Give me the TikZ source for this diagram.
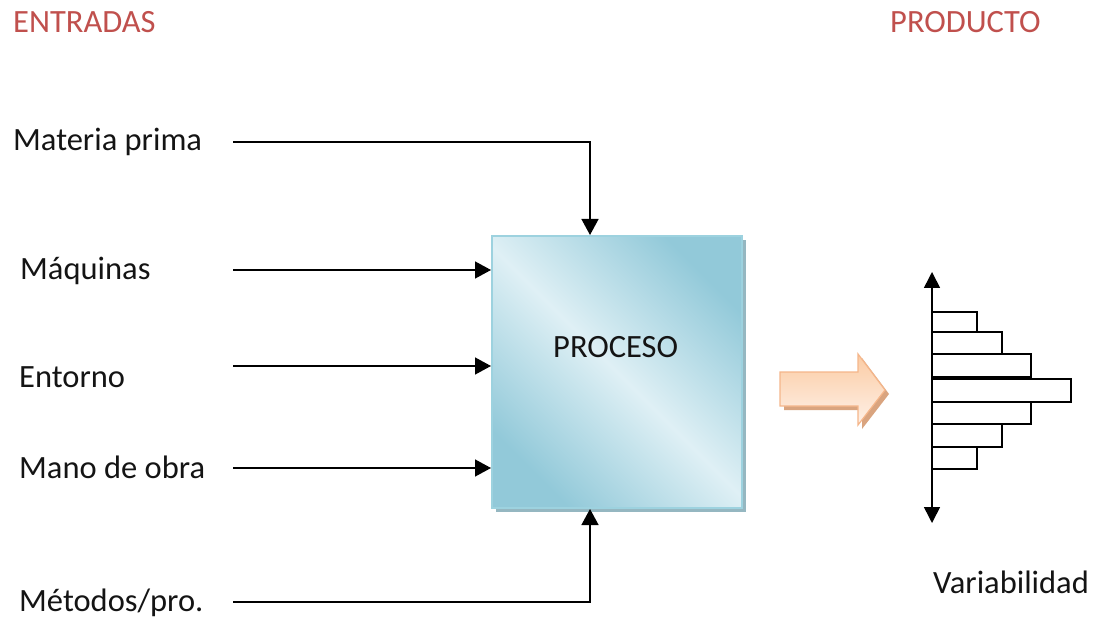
\documentclass[tikz,border=0pt]{standalone}
\usepackage{fontspec}
\setmainfont{Carlito}
\usetikzlibrary{arrows.meta,shadows,calc}
\definecolor{headred}{HTML}{C0504D}
\definecolor{boxdark}{HTML}{92C9D9}
\definecolor{boxlight}{HTML}{DFF0F5}
\definecolor{boxline}{HTML}{9DD2DF}
\definecolor{boxshadow}{HTML}{8AAFBA}
\definecolor{arrtop}{HTML}{FBCBA3}
\definecolor{arrbot}{HTML}{FEF1E8}
\definecolor{arrline}{HTML}{F5B68A}
\definecolor{arrshadow}{HTML}{D9A47F}
\definecolor{txt}{HTML}{141414}
\begin{document}
\begin{tikzpicture}[x=1pt,y=-1pt,
  lbl/.style={anchor=base west,inner sep=0pt,text=txt,font=\fontsize{32.5}{39}\selectfont},
  head/.style={lbl,text=headred},
  conn/.style={draw=black,line width=1.4pt,-{Triangle[length=16pt,width=17pt]}},
  procbox/.style={draw=boxline,line width=2pt,minimum width=250pt,minimum height=272pt,
    inner sep=0pt,top color=boxdark,bottom color=boxdark,middle color=boxlight,
    shading angle=-45,drop shadow={shadow xshift=4pt,shadow yshift=-4pt,fill=boxshadow,opacity=0.9}},
  bar/.style={draw=black,line width=1.3pt,fill=white},
]
\useasboundingbox (0,0) rectangle (1097,617);

% headings
\node[head] (hin) at (13,33) {ENTRADAS};
\node[head] (hout) at (890,33) {PRODUCTO};

% process block
\node[procbox] (proc) at (617,372) {};
\node[lbl] (proclbl) at (553,357) {PROCESO};

% input labels
\node[lbl] (mp) at (13,151) {Materia prima};
\node[lbl] (maq) at (20,280) {Máquinas};
\node[lbl] (ent) at (19,387) {Entorno};
\node[lbl] (mo) at (19,478) {Mano de obra};
\node[lbl] (met) at (19,611) {Métodos/pro.};

% connector start points and entry points on the block
\coordinate (s1) at (233,142);
\coordinate (s2) at (233,270);
\coordinate (s3) at (233,366);
\coordinate (s4) at (233,468);
\coordinate (s5) at (233,602);
\coordinate (top) at ($(proc.north west)+(99,0)$);
\coordinate (bot) at ($(proc.south west)+(99,0)$);

\draw[conn] (s1) -| (top);
\draw[conn] (s2) -- (s2 -| proc.west);
\draw[conn] (s3) -- (s3 -| proc.west);
\draw[conn] (s4) -- (s4 -| proc.west);
\draw[conn] (s5) -| (bot);

% output arrow
\fill[arrshadow] (784,376) -- (862,376) -- (862,358) -- (889,394) -- (862,429) -- (862,410) -- (784,410) -- cycle;
\draw[arrline,line width=1.2pt,top color=arrtop,bottom color=arrbot]
  (780,372) -- (858,372) -- (858,354) -- (885,390) -- (858,425) -- (858,406) -- (780,406) -- cycle;

% histogram
\draw[bar] (932,312) rectangle (977,332);
\draw[bar] (932,332) rectangle (1002,354);
\draw[bar] (932,354) rectangle (1031,377);
\draw[bar] (932,379) rectangle (1071,402);
\draw[bar] (932,402) rectangle (1031,424);
\draw[bar] (932,424) rectangle (1002,447);
\draw[bar] (932,447) rectangle (977,469);
\coordinate (axt) at (932,272);
\coordinate (axb) at (932,523);
\draw[line width=1.6pt,{Triangle[length=16pt,width=16pt]}-{Triangle[length=16pt,width=16pt]}] (axt) -- (axb);

\node[lbl] (var) at (933,593) {Variabilidad};
\end{tikzpicture}
\end{document}
